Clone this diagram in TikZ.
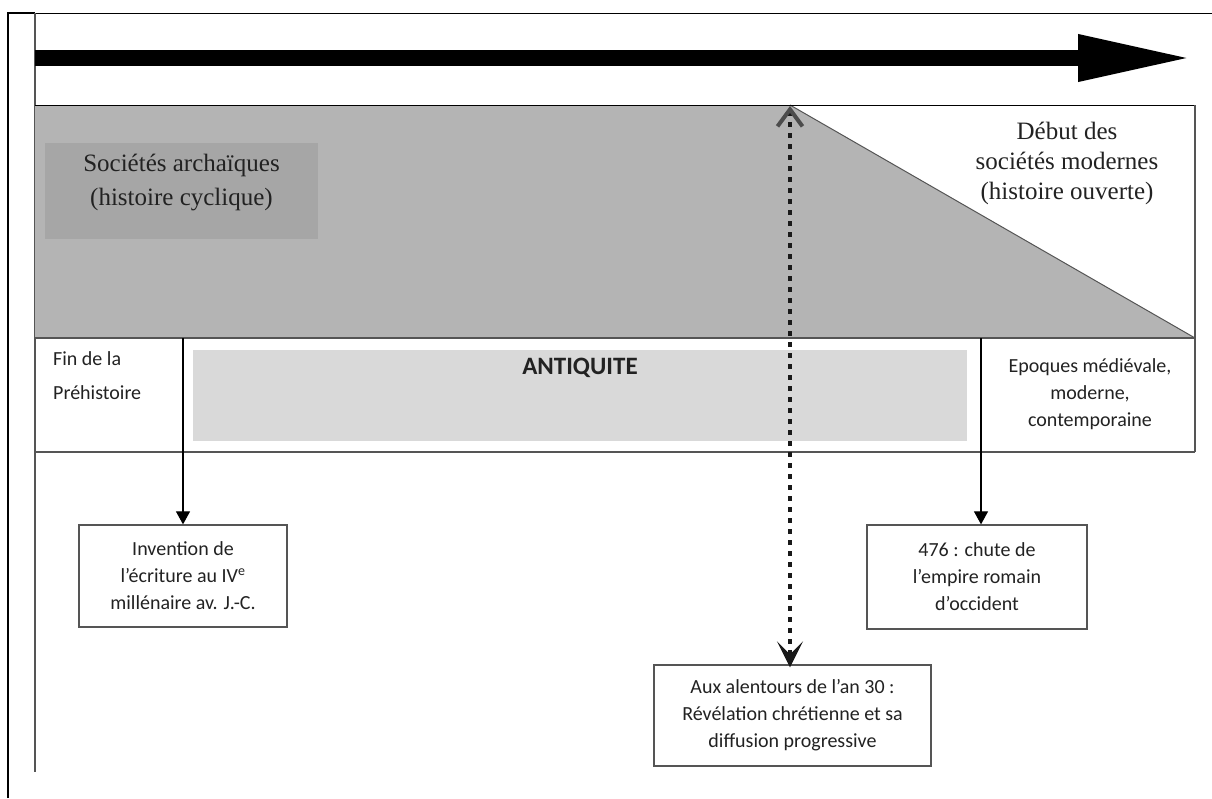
\documentclass[tikz,border=0pt]{standalone}
\usepackage{fontspec}
\setmainfont{Liberation Serif}
\newfontfamily\calfont{Carlito}
\usetikzlibrary{arrows.meta}
\definecolor{bandgrey}{HTML}{B4B4B4}
\definecolor{darkbox}{HTML}{A6A6A6}
\definecolor{lightbox}{HTML}{D9D9D9}
\definecolor{edge}{HTML}{555555}
\definecolor{txt}{HTML}{222222}
\begin{document}
\begin{tikzpicture}[x=1pt,y=-1pt,
  sanstext/.style={font=\calfont\fontsize{20}{27}\selectfont, align=center, text=txt},
  seriftext/.style={font=\fontsize{25}{34}\selectfont, align=center, text=txt},
  eventbox/.style={draw=edge, line width=1.3pt, fill=white, sanstext, inner sep=0pt},
  frameline/.style={line width=1pt, draw=black},
  greyline/.style={line width=1.2pt, draw=edge},
  evarrow/.style={line width=1.2pt, draw=black, -{Triangle[length=13pt,width=14pt]}},
  timearrow/.style={line width=16pt, -{Triangle[length=115pt,width=43pt]}},
  dotline/.style={line width=4.5pt, draw=black!90, dash pattern=on 5pt off 6pt,
    {Straight Barb[length=17pt,width=25pt,line width=4pt,color=black!70]}-{Stealth[length=26pt,width=26pt,inset=13pt]}}
]
\useasboundingbox (0,0) rectangle (1212,798);
% outer frame lines
\draw[line width=2pt] (8,798) -- (8,13) -- (35,13);
\draw[frameline] (35,13) -- (1212,13);
\draw[greyline] (35,13) -- (35,772);
% time arrow
\coordinate (tl) at (35,58);
\coordinate (tr) at (1193,58);
\draw[timearrow] (tl) -- (tr);
% grey band with white triangle
\fill[bandgrey] (35,105) -- (790,105) -- (1195,338) -- (35,338) -- cycle;
\draw[edge, line width=1pt] (790,105) -- (1195,338);
\draw[frameline] (35,105) -- (1195,105);
\draw[greyline] (1195,105) -- (1195,452);
% archaic societies box
\node[fill=darkbox, minimum width=273pt, minimum height=96pt, inner sep=0pt] (arch) at (181.5,191) {};
\node[seriftext] (archt) at (181.5,183) {Sociétés archaïques\\(histoire cyclique)};
\node[seriftext, font=\fontsize{25}{30}\selectfont] (modern) at (1067,163) {Début des\\sociétés modernes\\(histoire ouverte)};
% row
\draw[greyline] (35,338) -- (1195,338);
\draw[greyline] (35,452) -- (1195,452);
\node[fill=lightbox, minimum width=774pt, minimum height=91pt, inner sep=0pt] (antiq) at (580,395.5) {};
\node[font=\calfont\bfseries\fontsize{25}{30}\selectfont, text=txt] (antiqt) at (580,368) {ANTIQUITE};
\node[sanstext, font=\calfont\fontsize{20}{34}\selectfont, align=left, anchor=west, inner sep=0pt] (prehist) at (53,376) {Fin de la\\Préhistoire};
\node[sanstext] (epoques) at (1090,394) {Epoques médiévale,\\moderne,\\contemporaine};
% event boxes
\node[eventbox, minimum width=208pt, minimum height=102pt] (inv) at (183,576) {Invention de\\l’écriture au IV\textsuperscript{e}\\millénaire av. J.-C.};
\node[eventbox, minimum width=220pt, minimum height=104pt] (chute) at (977,577) {476 : chute de\\l’empire romain\\d’occident};
\node[eventbox, minimum width=277pt, minimum height=101pt] (aux) at (792.5,715.5) {Aux alentours de l’an 30 :\\Révélation chrétienne et sa\\diffusion progressive};
% dividers + arrows
\coordinate (d1) at (183,338);
\coordinate (d2) at (981,338);
\draw[evarrow] (d1) -- (inv.north);
\draw[evarrow] (d2) -- (d2 |- chute.north);
% dotted double arrow
\coordinate (rev) at (790,106);
\draw[dotline] (rev) -- ([yshift=-3pt]rev |- aux.north);
\end{tikzpicture}
\end{document}
